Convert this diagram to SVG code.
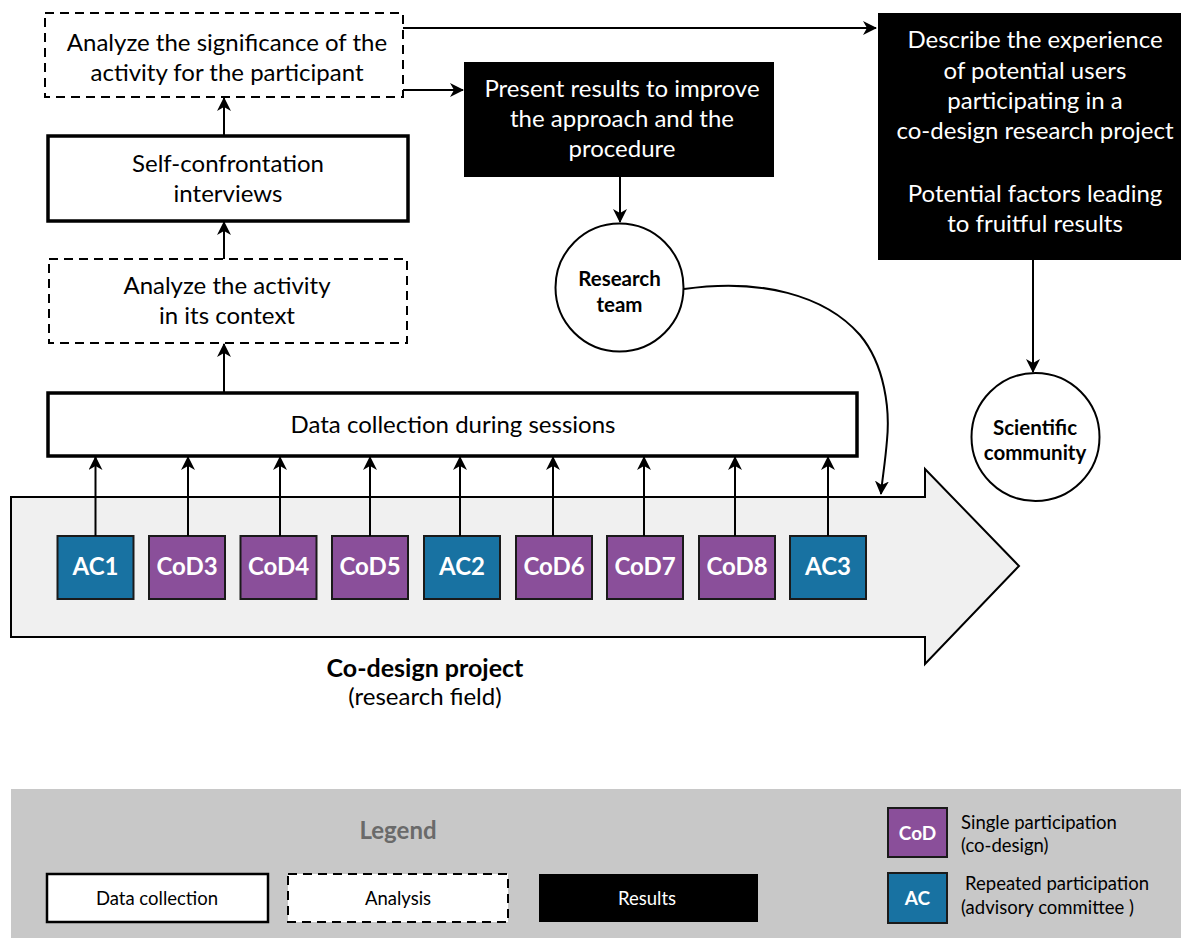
<svg xmlns="http://www.w3.org/2000/svg" width="1181" height="938" viewBox="0 0 1181 938">
<defs>
<marker id="ah" viewBox="0 0 14 14" markerWidth="14" markerHeight="14" refX="13" refY="7" orient="auto" markerUnits="userSpaceOnUse">
<path d="M0,0 L14,7 L0,14 L4,7 z" fill="#000"/>
</marker>
<style>
text{font-family:Lato,"Liberation Sans",sans-serif;}
.t{font-size:24px;fill:#000;text-anchor:middle;}
.w{font-size:24px;fill:#fff;text-anchor:middle;}
.b{font-size:20.5px;font-weight:bold;fill:#000;text-anchor:middle;}
.sq{font-size:24px;font-weight:bold;fill:#fff;text-anchor:middle;}
.dash{fill:#fff;stroke:#000;stroke-width:2;stroke-dasharray:9,6;}
.solid{fill:#fff;stroke:#000;stroke-width:3.5;}
.res{fill:#000;}
.ac{fill:#1872a2;stroke:#1a1a1a;stroke-width:2;}
.cod{fill:#8a4f9a;stroke:#1a1a1a;stroke-width:2;}
.circ{fill:#fff;stroke:#000;stroke-width:2;}
.con{fill:none;stroke:#000;stroke-width:2;marker-end:url(#ah);}
.lg{font-size:18.5px;fill:#000;}
</style>
</defs>
<rect width="1181" height="938" fill="#fff"/>

<g id="project-arrow">
<path d="M11,497 L925,497 L925,469 L1019,566 L925,664 L925,637 L11,637 Z" fill="#f0f0f0" stroke="#000" stroke-width="2"/>
<text x="425" y="677" class="t" style="font-weight:bold;font-size:25px">Co-design project</text>
<text x="425" y="705" class="t">(research field)</text>
</g>

<g id="n-sig">
<rect x="45" y="13" width="358" height="84" class="dash"/>
<text x="227" y="51" class="t">Analyze the significance of the</text>
<text x="227" y="81" class="t">activity for the participant</text>
</g>
<g id="n-self">
<rect x="48" y="136" width="360" height="85" class="solid"/>
<text x="228" y="172" class="t">Self-confrontation</text>
<text x="228" y="202" class="t">interviews</text>
</g>
<g id="n-act">
<rect x="49" y="259" width="358" height="84" class="dash"/>
<text x="227" y="294" class="t">Analyze the activity</text>
<text x="227" y="324" class="t">in its context</text>
</g>
<g id="n-data">
<rect x="48" y="393" width="809" height="63" class="solid"/>
<text x="453" y="433" class="t">Data collection during sessions</text>
</g>
<g id="n-present">
<rect x="464" y="62" width="310" height="115" class="res"/>
<text x="622" y="97" class="w">Present results to improve</text>
<text x="622" y="127" class="w">the approach and the</text>
<text x="622" y="157" class="w">procedure</text>
</g>
<g id="n-describe">
<rect x="878" y="13" width="303" height="247" class="res"/>
<text x="1035" y="48" class="w">Describe the experience</text>
<text x="1035" y="79" class="w">of potential users</text>
<text x="1035" y="109" class="w">participating in a</text>
<text x="1035" y="139" class="w">co-design research project</text>
<text x="1035" y="202" class="w">Potential factors leading</text>
<text x="1035" y="232" class="w">to fruitful results</text>
</g>
<g id="n-team">
<circle cx="619.5" cy="287.5" r="64" class="circ"/>
<text x="619.5" y="286" class="b">Research</text>
<text x="619.5" y="312" class="b">team</text>
</g>
<g id="n-sci">
<circle cx="1035.5" cy="437" r="64" class="circ"/>
<text x="1035" y="435" class="b">Scientific</text>
<text x="1035" y="460" class="b">community</text>
</g>

<g id="sessions">
<g id="s-ac1"><rect x="57.5" y="536" width="76" height="63" class="ac"/><text x="95.5" y="575" class="sq">AC1</text></g>
<g id="s-cod3"><rect x="149" y="536" width="76" height="63" class="cod"/><text x="187" y="575" class="sq">CoD3</text></g>
<g id="s-cod4"><rect x="240.5" y="536" width="76" height="63" class="cod"/><text x="278.5" y="575" class="sq">CoD4</text></g>
<g id="s-cod5"><rect x="332" y="536" width="76" height="63" class="cod"/><text x="370" y="575" class="sq">CoD5</text></g>
<g id="s-ac2"><rect x="424" y="536" width="76" height="63" class="ac"/><text x="462" y="575" class="sq">AC2</text></g>
<g id="s-cod6"><rect x="516" y="536" width="76" height="63" class="cod"/><text x="554" y="575" class="sq">CoD6</text></g>
<g id="s-cod7"><rect x="607" y="536" width="76" height="63" class="cod"/><text x="645" y="575" class="sq">CoD7</text></g>
<g id="s-cod8"><rect x="699" y="536" width="76" height="63" class="cod"/><text x="737" y="575" class="sq">CoD8</text></g>
<g id="s-ac3"><rect x="790" y="536" width="76" height="63" class="ac"/><text x="828" y="575" class="sq">AC3</text></g>
</g>

<g id="connectors">
<line x1="95.5" y1="536" x2="95.5" y2="457" class="con"/>
<line x1="188" y1="536" x2="188" y2="457" class="con"/>
<line x1="280" y1="536" x2="280" y2="457" class="con"/>
<line x1="370" y1="536" x2="370" y2="457" class="con"/>
<line x1="460" y1="536" x2="460" y2="457" class="con"/>
<line x1="553" y1="536" x2="553" y2="457" class="con"/>
<line x1="644" y1="536" x2="644" y2="457" class="con"/>
<line x1="735" y1="536" x2="735" y2="457" class="con"/>
<line x1="828" y1="536" x2="828" y2="457" class="con"/>
<line x1="224" y1="393" x2="224" y2="344" class="con"/>
<line x1="224" y1="259" x2="224" y2="222" class="con"/>
<line x1="224" y1="136" x2="224" y2="98" class="con"/>
<line x1="403" y1="28" x2="876" y2="28" class="con"/>
<line x1="403" y1="90" x2="463" y2="90" class="con"/>
<line x1="620" y1="177" x2="620" y2="222" class="con"/>
<line x1="1033" y1="260" x2="1033" y2="372" class="con"/>
<path d="M684,289 C760,278 825,295 860,335 C885,365 890,410 887,440 C885,465 882,480 881,494" class="con"/>
</g>

<g id="legend">
<rect x="11" y="789" width="1170" height="149" fill="#c8c8c8"/>
<text x="398" y="839" style="font-size:24px;font-weight:bold;fill:#6a6a6a;text-anchor:middle">Legend</text>
<rect x="47" y="874" width="221" height="48" class="solid" style="stroke-width:2.5"/>
<text x="157" y="905" class="lg" text-anchor="middle">Data collection</text>
<rect x="288" y="874" width="220" height="48" class="dash"/>
<text x="398" y="905" class="lg" text-anchor="middle">Analysis</text>
<rect x="539" y="874" width="219" height="48" class="res"/>
<text x="647" y="905" class="lg" text-anchor="middle" style="fill:#fff">Results</text>
<rect x="888" y="808" width="59" height="49" class="cod"/>
<text x="917.5" y="840" text-anchor="middle" style="font-size:19px;font-weight:bold;fill:#fff">CoD</text>
<rect x="888" y="873" width="59" height="50" class="ac"/>
<text x="917.5" y="905" text-anchor="middle" style="font-size:19px;font-weight:bold;fill:#fff">AC</text>
<text x="961" y="829" class="lg">Single participation</text>
<text x="961" y="852" class="lg">(co-design)</text>
<text x="965" y="890" class="lg">Repeated participation</text>
<text x="961" y="914" class="lg">(advisory committee )</text>
</g>
</svg>
